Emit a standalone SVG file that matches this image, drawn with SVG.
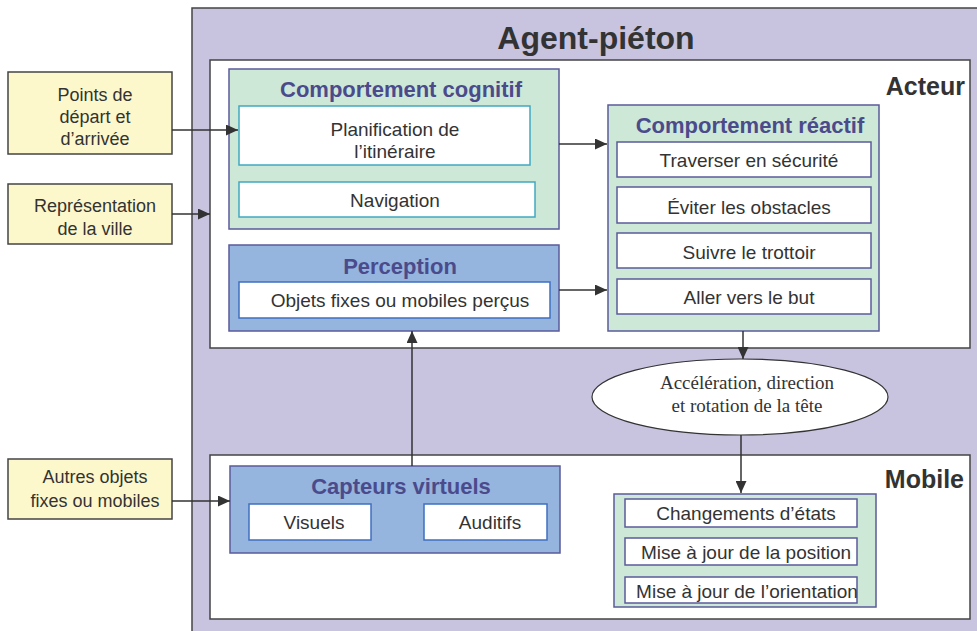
<svg xmlns="http://www.w3.org/2000/svg" width="977" height="631" viewBox="0 0 977 631">
<defs>
<style>
.t{font-family:"Liberation Sans",Arial,sans-serif;fill:#333;text-anchor:middle}
.n{font-size:19px}
.y{font-size:18px}
.h{font-size:22px;font-weight:bold;fill:#4b4b8c}
.b{font-weight:bold;fill:#333}
.s{font-family:"Liberation Serif","Times New Roman",serif;font-size:19px;fill:#333;text-anchor:middle}
.yel{fill:#fdf8cc;stroke:#444;stroke-width:1.5}
.grn{fill:#cde8d7;stroke:#5b5b9b;stroke-width:1.5}
.blu{fill:#95b4de;stroke:#5b5b9b;stroke-width:1.5}
.wt{fill:#fff;stroke:#40a8c0;stroke-width:1.5}
.wb{fill:#fff;stroke:#3f6fc0;stroke-width:1.5}
.wp{fill:#fff;stroke:#5b5b9b;stroke-width:1.5}
.c{stroke:#333;stroke-width:1.5;fill:none;marker-end:url(#ah)}
</style>
<marker id="ah" viewBox="0 0 12 11" refX="12" refY="5.5" markerWidth="12" markerHeight="11" markerUnits="userSpaceOnUse" orient="auto">
<path d="M0,0 L12,5.5 L0,11 z" fill="#333"/>
</marker>
</defs>
<g id="agent">
<rect x="192" y="8" width="800" height="640" fill="#c8c4e0" stroke="#444" stroke-width="1.5"/>
<text class="t b" x="596" y="49" style="font-size:32px">Agent-piéton</text>
</g>
<g id="acteur">
<rect x="210" y="60" width="760" height="288" fill="#fff" stroke="#444" stroke-width="1.5"/>
<text class="t b" x="965" y="95" style="font-size:25px;text-anchor:end">Acteur</text>
</g>
<g id="mobile">
<rect x="210" y="455" width="760" height="164" fill="#fff" stroke="#444" stroke-width="1.5"/>
<text class="t b" x="964" y="488" style="font-size:25px;text-anchor:end">Mobile</text>
</g>
<g id="points">
<rect class="yel" x="8" y="72" width="164" height="82"/>
<text class="t y" x="95" y="101">Points de</text>
<text class="t y" x="95" y="123">départ et</text>
<text class="t y" x="95" y="145">d’arrivée</text>
</g>
<g id="representation">
<rect class="yel" x="8" y="184" width="164" height="60"/>
<text class="t y" x="95" y="212">Représentation</text>
<text class="t y" x="95" y="235">de la ville</text>
</g>
<g id="autres">
<rect class="yel" x="8" y="459" width="164" height="60"/>
<text class="t y" x="95" y="483">Autres objets</text>
<text class="t y" x="95" y="507">fixes ou mobiles</text>
</g>
<g id="cognitif">
<rect class="grn" x="229" y="69" width="330" height="160"/>
<text class="t h" x="401" y="97">Comportement cognitif</text>
<rect class="wt" x="239" y="106" width="291" height="59"/>
<text class="t n" x="395" y="136">Planification de</text>
<text class="t n" x="395" y="158">l’itinéraire</text>
<rect class="wt" x="239" y="182" width="296" height="35"/>
<text class="t n" x="395" y="207">Navigation</text>
</g>
<g id="perception">
<rect class="blu" x="229" y="245" width="330" height="86"/>
<text class="t h" x="400" y="274">Perception</text>
<rect class="wb" x="239" y="282" width="311" height="36"/>
<text class="t n" x="400" y="307">Objets fixes ou mobiles perçus</text>
</g>
<g id="reactif">
<rect class="grn" x="608" y="105" width="271" height="226"/>
<text class="t h" x="750" y="133">Comportement réactif</text>
<rect class="wp" x="617" y="142" width="254" height="35"/>
<text class="t n" x="749" y="167">Traverser en sécurité</text>
<rect class="wp" x="617" y="187" width="254" height="36"/>
<text class="t n" x="749" y="214">Éviter les obstacles</text>
<rect class="wp" x="617" y="233" width="254" height="35"/>
<text class="t n" x="749" y="259">Suivre le trottoir</text>
<rect class="wp" x="617" y="279" width="254" height="35"/>
<text class="t n" x="749" y="304">Aller vers le but</text>
</g>
<g id="commande">
<ellipse cx="740" cy="397" rx="148" ry="38" fill="#fff" stroke="#333" stroke-width="1.2"/>
<text class="s" x="747" y="389">Accélération, direction</text>
<text class="s" x="747" y="412">et rotation de la tête</text>
</g>
<g id="capteurs">
<rect class="blu" x="230" y="466" width="330" height="87"/>
<text class="t h" x="401" y="494">Capteurs virtuels</text>
<rect class="wb" x="249" y="504" width="122" height="36"/>
<text class="t n" x="314" y="529">Visuels</text>
<rect class="wb" x="424" y="504" width="123" height="36"/>
<text class="t n" x="490" y="529">Auditifs</text>
</g>
<g id="etats">
<rect class="grn" x="614" y="494" width="262" height="113"/>
<rect class="wp" x="625" y="499" width="232" height="28"/>
<text class="t n" x="746" y="520">Changements d’états</text>
<rect class="wp" x="625" y="538" width="232" height="27"/>
<text class="t n" x="746" y="559">Mise à jour de la position</text>
<rect class="wp" x="625" y="577" width="232" height="26"/>
<text class="t n" x="747" y="598">Mise à jour de l’orientation</text>
</g>
<g id="connectors">
<path class="c" d="M172,130 H238"/>
<path class="c" d="M172,214 H210"/>
<path class="c" d="M172,501 H230"/>
<path class="c" d="M559,144 H607"/>
<path class="c" d="M559,290 H607"/>
<path class="c" d="M412,466 V331"/>
<path class="c" d="M743,331 V359"/>
<path class="c" d="M741,435 V493"/>
</g>
</svg>
